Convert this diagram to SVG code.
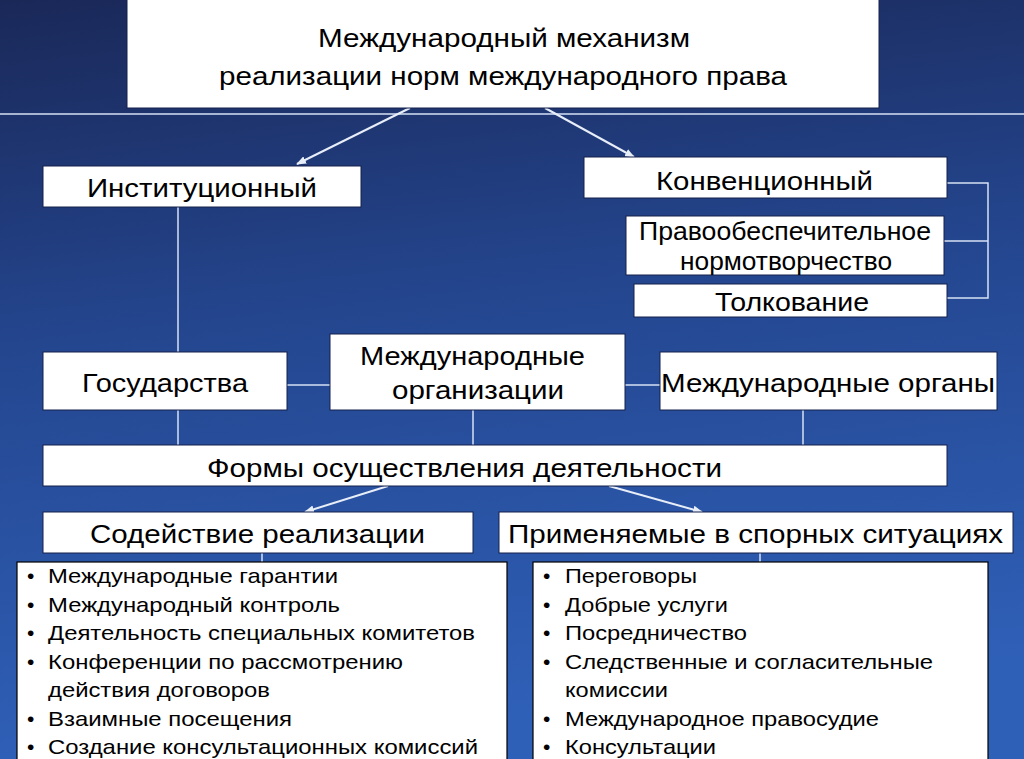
<svg xmlns="http://www.w3.org/2000/svg" width="1024" height="759" viewBox="0 0 1024 759">
<defs>
<linearGradient id="bg" x1="0" y1="0" x2="0.15" y2="1">
<stop offset="0" stop-color="#1a2858"/>
<stop offset="0.45" stop-color="#24468f"/>
<stop offset="1" stop-color="#2f60b8"/>
</linearGradient>
<marker id="ah" markerWidth="10" markerHeight="8" refX="9" refY="4" orient="auto" markerUnits="userSpaceOnUse">
<path d="M0,0 L10,4 L0,8 Z" fill="#e8eef8"/>
</marker>
<style>
.box{fill:#ffffff;stroke:#15204a;stroke-width:1}
.t{font-family:"Liberation Sans",Arial,sans-serif;fill:#000;font-size:26px}
.li{font-family:"Liberation Sans",Arial,sans-serif;fill:#000;font-size:21px}
.ln{stroke:#d6e2f4;stroke-width:1.5;fill:none}
.ar{stroke:#e8eef8;stroke-width:2;fill:none;marker-end:url(#ah)}
</style>
</defs>
<rect x="0" y="0" width="1024" height="759" fill="url(#bg)"/>
<line x1="0" y1="114" x2="1024" y2="114" stroke="#d6e2f4" stroke-width="1.5"/>

<g id="connectors">
<line class="ar" x1="410" y1="108" x2="297" y2="164"/>
<line class="ar" x1="545" y1="108" x2="634" y2="157"/>
<line class="ln" x1="178" y1="207" x2="178" y2="352"/>
<polyline class="ln" points="947,183 988,183 988,298 947,298"/>
<line class="ln" x1="944" y1="241" x2="988" y2="241"/>
<line class="ln" x1="287" y1="385" x2="330" y2="385"/>
<line class="ln" x1="625" y1="385" x2="660" y2="385"/>
<line class="ln" x1="178" y1="410" x2="178" y2="445"/>
<line class="ln" x1="473" y1="410" x2="473" y2="445"/>
<line class="ln" x1="803" y1="410" x2="803" y2="445"/>
<line class="ar" x1="388" y1="486" x2="305" y2="512"/>
<line class="ar" x1="609" y1="486" x2="702" y2="512"/>
<line class="ln" x1="262" y1="553" x2="262" y2="562"/>
<line class="ln" x1="760" y1="553" x2="760" y2="562"/>
</g>

<g id="title">
<rect class="box" x="127" y="-2" width="752" height="110"/>
<text class="t" x="318" y="47" textLength="372" lengthAdjust="spacingAndGlyphs">Международный механизм</text>
<text class="t" x="219" y="85" textLength="568" lengthAdjust="spacingAndGlyphs">реализации норм международного права</text>
</g>

<g id="inst">
<rect class="box" x="43" y="166" width="318" height="41"/>
<text class="t" x="87" y="197" textLength="230" lengthAdjust="spacingAndGlyphs">Институционный</text>
</g>

<g id="conv">
<rect class="box" x="584" y="157" width="363" height="41"/>
<text class="t" x="656" y="190" textLength="217" lengthAdjust="spacingAndGlyphs">Конвенционный</text>
</g>

<g id="pravo">
<rect class="box" x="626" y="216" width="318" height="59"/>
<text class="t" x="639" y="240" font-size="24" textLength="292" lengthAdjust="spacingAndGlyphs">Правообеспечительное</text>
<text class="t" x="680" y="270" font-size="24" textLength="212" lengthAdjust="spacingAndGlyphs">нормотворчество</text>
</g>

<g id="tolk">
<rect class="box" x="634" y="284" width="313" height="33"/>
<text class="t" x="715" y="311" textLength="154" lengthAdjust="spacingAndGlyphs">Толкование</text>
</g>

<g id="gos">
<rect class="box" x="43" y="352" width="244" height="58"/>
<text class="t" x="82" y="392" textLength="166" lengthAdjust="spacingAndGlyphs">Государства</text>
</g>

<g id="mo">
<rect class="box" x="330" y="334" width="295" height="76"/>
<text class="t" x="360" y="365" textLength="225" lengthAdjust="spacingAndGlyphs">Международные</text>
<text class="t" x="392" y="399" textLength="172" lengthAdjust="spacingAndGlyphs">организации</text>
</g>

<g id="morg">
<rect class="box" x="660" y="352" width="337" height="58"/>
<text class="t" x="661" y="392" textLength="334" lengthAdjust="spacingAndGlyphs">Международные органы</text>
</g>

<g id="formy">
<rect class="box" x="43" y="445" width="904" height="41"/>
<text class="t" x="207" y="477" textLength="515" lengthAdjust="spacingAndGlyphs">Формы осуществления деятельности</text>
</g>

<g id="sod">
<rect class="box" x="43" y="512" width="430" height="41"/>
<text class="t" x="90" y="543" textLength="335" lengthAdjust="spacingAndGlyphs">Содействие реализации</text>
</g>

<g id="prim">
<rect class="box" x="499" y="512" width="514" height="41"/>
<text class="t" x="508" y="543" textLength="495" lengthAdjust="spacingAndGlyphs">Применяемые в спорных ситуациях</text>
</g>

<g id="list-left">
<rect x="17" y="562" width="490" height="198" fill="#fff" stroke="#000" stroke-width="1.2"/>
<text class="li" x="27" y="583">•</text><text class="li" x="48" y="583" textLength="290" lengthAdjust="spacingAndGlyphs">Международные гарантии</text>
<text class="li" x="27" y="611.5">•</text><text class="li" x="48" y="611.5" textLength="292" lengthAdjust="spacingAndGlyphs">Международный контроль</text>
<text class="li" x="27" y="640">•</text><text class="li" x="48" y="640" textLength="427" lengthAdjust="spacingAndGlyphs">Деятельность специальных комитетов</text>
<text class="li" x="27" y="668.5">•</text><text class="li" x="48" y="668.5" textLength="355" lengthAdjust="spacingAndGlyphs">Конференции по рассмотрению</text>
<text class="li" x="48" y="697" textLength="222" lengthAdjust="spacingAndGlyphs">действия договоров</text>
<text class="li" x="27" y="725.5">•</text><text class="li" x="48" y="725.5" textLength="244" lengthAdjust="spacingAndGlyphs">Взаимные посещения</text>
<text class="li" x="27" y="754">•</text><text class="li" x="48" y="754" textLength="430" lengthAdjust="spacingAndGlyphs">Создание консультационных комиссий</text>
</g>

<g id="list-right">
<rect x="533" y="562" width="455" height="198" fill="#fff" stroke="#000" stroke-width="1.2"/>
<text class="li" x="543" y="583">•</text><text class="li" x="565" y="583" textLength="132" lengthAdjust="spacingAndGlyphs">Переговоры</text>
<text class="li" x="543" y="611.5">•</text><text class="li" x="565" y="611.5" textLength="163" lengthAdjust="spacingAndGlyphs">Добрые услуги</text>
<text class="li" x="543" y="640">•</text><text class="li" x="565" y="640" textLength="182" lengthAdjust="spacingAndGlyphs">Посредничество</text>
<text class="li" x="543" y="668.5">•</text><text class="li" x="565" y="668.5" textLength="368" lengthAdjust="spacingAndGlyphs">Следственные и согласительные</text>
<text class="li" x="565" y="697" textLength="103" lengthAdjust="spacingAndGlyphs">комиссии</text>
<text class="li" x="543" y="725.5">•</text><text class="li" x="565" y="725.5" textLength="314" lengthAdjust="spacingAndGlyphs">Международное правосудие</text>
<text class="li" x="543" y="754">•</text><text class="li" x="565" y="754" textLength="151" lengthAdjust="spacingAndGlyphs">Консультации</text>
</g>
</svg>
